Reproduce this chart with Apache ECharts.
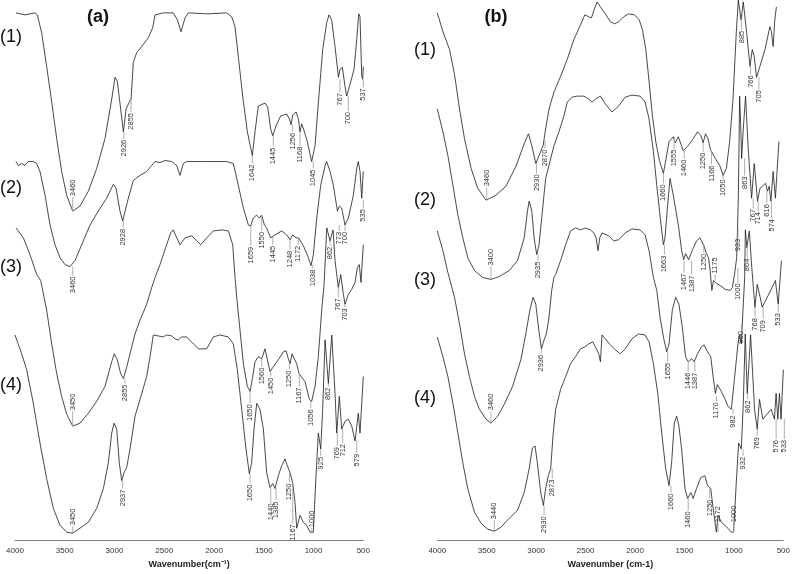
<!DOCTYPE html>
<html><head><meta charset="utf-8">
<script src="https://cdn.jsdelivr.net/npm/echarts@6/dist/echarts.min.js"></script>
<style>html,body{margin:0;padding:0;background:#fff}#c{width:793px;height:574px}</style>
</head><body><div id="c"></div>
<script>
// x ticks (wavenumber, cm-1)
const xMin = 500, xMax = 4000, xStep = 500;

// Panel (a) spectra: [wavenumber, relative transmittance (offset)]
const specA1 = [[3990,532],[3900,530],[3849,531],[3799,532],[3776,530],[3732,512],[3682,478],[3631,442],[3581,405],[3531,372],[3481,348],[3420,332],[3347,337],[3263,352],[3179,375],[3096,405],[3028,445],[2995,467],[2972,463],[2938,435],[2911,412],[2884,435],[2851,442],[2834,445],[2811,482],[2777,492],[2727,498],[2660,507],[2616,517],[2593,530],[2509,532],[2409,532],[2368,525],[2332,513],[2291,527],[2258,532],[2074,531],[1873,532],[1822,528],[1789,518],[1756,488],[1712,448],[1665,412],[1615,388],[1588,412],[1555,438],[1488,441],[1461,437],[1431,415],[1410,408],[1377,418],[1330,428],[1270,430],[1243,425],[1226,419],[1210,429],[1176,432],[1152,425],[1136,412],[1119,420],[1095,413],[1062,402],[1019,382],[985,398],[951,442],[908,495],[868,522],[844,530],[818,525],[784,498],[750,467],[734,475],[710,477],[684,458],[667,448],[633,460],[593,475],[566,505],[546,531],[533,528],[516,468],[506,465],[500,478]];
const specA2 = [[3990,382],[3966,378],[3933,380],[3900,378],[3866,382],[3816,382],[3782,380],[3749,372],[3698,348],[3648,318],[3598,298],[3548,285],[3497,278],[3447,276],[3397,282],[3330,298],[3246,318],[3163,332],[3079,345],[3012,359],[2985,355],[2945,332],[2918,322],[2894,332],[2861,345],[2811,363],[2744,368],[2677,372],[2626,378],[2593,382],[2543,381],[2492,383],[2425,382],[2375,378],[2342,368],[2308,380],[2275,382],[2074,382],[1873,382],[1806,380],[1756,358],[1705,335],[1655,318],[1632,317],[1605,325],[1572,328],[1545,325],[1521,328],[1494,318],[1471,315],[1431,305],[1387,308],[1320,312],[1270,308],[1236,303],[1210,308],[1176,305],[1152,305],[1102,297],[1052,285],[1025,277],[1002,288],[968,325],[928,358],[884,378],[868,382],[834,372],[801,358],[760,332],[740,337],[717,335],[684,318],[650,325],[600,348],[566,375],[550,382],[533,372],[516,345],[500,372]];
const specA3 = [[3990,315],[3916,305],[3849,288],[3782,268],[3742,262],[3682,232],[3631,198],[3581,168],[3531,145],[3481,127],[3420,115],[3347,118],[3263,128],[3179,140],[3096,155],[3028,180],[3002,188],[2972,182],[2938,168],[2911,163],[2884,172],[2844,188],[2794,208],[2744,222],[2677,238],[2626,255],[2593,265],[2543,278],[2476,298],[2436,310],[2409,313],[2375,305],[2342,298],[2291,305],[2224,307],[2174,302],[2134,298],[2074,305],[2007,312],[1923,313],[1856,312],[1812,298],[1789,265],[1772,245],[1745,218],[1705,178],[1665,155],[1638,150],[1611,165],[1588,180],[1555,185],[1521,183],[1488,193],[1464,182],[1437,170],[1404,175],[1354,182],[1303,190],[1276,191],[1253,183],[1236,178],[1216,188],[1196,189],[1169,178],[1146,168],[1126,167],[1086,160],[1042,142],[1019,140],[985,155],[952,185],[918,232],[894,258],[867,315],[834,302],[804,313],[784,282],[751,255],[727,268],[700,248],[684,238],[650,248],[616,253],[583,260],[560,275],[540,278],[523,260],[500,298]];
const specA4 = [[4000,207],[3933,188],[3883,172],[3816,138],[3749,98],[3682,62],[3615,32],[3548,15],[3481,8],[3420,7],[3347,12],[3263,18],[3179,32],[3112,52],[3062,78],[3028,108],[3005,118],[2978,112],[2952,78],[2928,60],[2905,68],[2878,73],[2844,92],[2794,125],[2744,142],[2677,165],[2643,185],[2610,207],[2559,206],[2509,205],[2476,207],[2425,206],[2392,203],[2358,202],[2325,205],[2275,205],[2207,198],[2157,193],[2074,193],[2007,205],[1940,207],[1856,205],[1806,198],[1766,172],[1722,132],[1679,92],[1645,67],[1622,78],[1598,112],[1571,138],[1538,132],[1504,112],[1471,68],[1437,53],[1410,57],[1387,52],[1354,65],[1320,75],[1287,82],[1263,75],[1236,68],[1210,58],[1186,38],[1169,12],[1136,25],[1102,18],[1069,15],[1035,8],[1002,8],[975,65],[952,108],[928,92],[908,132],[884,202],[851,158],[817,207],[784,148],[767,108],[741,145],[717,112],[683,120],[650,122],[616,115],[583,100],[550,128],[533,108],[500,165]];

// Panel (b) spectra
const specB1 = [[4000,532],[3943,513],[3876,495],[3826,470],[3775,435],[3725,405],[3658,375],[3591,355],[3507,343],[3407,348],[3306,357],[3205,377],[3121,400],[3078,410],[3044,398],[3004,380],[2971,388],[2930,398],[2904,415],[2870,435],[2820,452],[2753,468],[2686,485],[2619,505],[2551,520],[2508,530],[2468,528],[2441,527],[2407,537],[2384,543],[2350,538],[2300,531],[2250,523],[2206,521],[2166,523],[2116,528],[2065,531],[2005,530],[1958,525],[1925,515],[1891,495],[1857,462],[1824,428],[1790,402],[1753,383],[1713,370],[1686,385],[1656,402],[1613,407],[1593,401],[1562,407],[1512,393],[1462,398],[1411,405],[1368,412],[1334,408],[1311,401],[1287,410],[1261,405],[1237,394],[1217,393],[1187,385],[1143,378],[1110,368],[1076,375],[1043,402],[1009,445],[976,512],[955,545],[928,525],[905,543],[871,512],[837,478],[814,495],[794,488],[771,467],[737,478],[686,495],[636,518],[620,513],[603,498],[586,525],[570,538]];
const specB2 = [[4000,435],[3943,412],[3893,388],[3842,358],[3792,328],[3742,305],[3692,285],[3624,272],[3541,265],[3457,263],[3373,266],[3272,272],[3189,282],[3121,305],[3088,332],[3071,342],[3044,332],[3021,305],[2994,288],[2971,298],[2937,332],[2904,365],[2870,378],[2820,398],[2770,412],[2719,428],[2686,442],[2635,447],[2585,448],[2518,448],[2468,445],[2434,442],[2401,445],[2350,448],[2300,440],[2233,432],[2166,438],[2099,447],[2032,449],[1948,448],[1898,442],[1858,425],[1814,392],[1774,352],[1737,318],[1713,298],[1697,305],[1670,338],[1646,365],[1613,348],[1562,318],[1528,292],[1508,283],[1488,289],[1458,283],[1418,293],[1377,302],[1344,305],[1307,298],[1277,289],[1257,285],[1240,272],[1223,252],[1206,262],[1176,259],[1139,257],[1089,253],[1038,252],[1015,255],[988,272],[972,285],[955,345],[942,448],[930,415],[922,385],[905,415],[882,448],[855,395],[821,345],[794,380],[761,342],[736,355],[703,358],[680,360],[660,352],[643,357],[626,342],[603,372],[580,345],[545,402]];
const specB3 = [[4000,312],[3943,292],[3893,270],[3826,245],[3775,218],[3725,188],[3675,165],[3624,145],[3574,132],[3507,122],[3457,118],[3390,125],[3323,137],[3239,155],[3155,182],[3105,208],[3064,232],[3031,245],[3004,238],[2977,215],[2947,193],[2920,202],[2897,208],[2870,225],[2843,252],[2820,265],[2803,268],[2753,282],[2702,298],[2652,312],[2602,315],[2551,313],[2501,315],[2451,313],[2417,310],[2394,305],[2374,292],[2357,305],[2334,310],[2267,307],[2216,302],[2166,303],[2099,310],[2032,314],[1948,313],[1898,308],[1858,292],[1814,265],[1780,252],[1747,225],[1713,205],[1680,190],[1656,198],[1623,232],[1589,245],[1556,238],[1522,215],[1489,185],[1462,180],[1428,183],[1401,180],[1368,188],[1328,195],[1301,197],[1267,190],[1234,185],[1210,165],[1187,148],[1167,157],[1127,150],[1093,143],[1060,135],[1026,132],[992,165],[959,198],[942,207],[925,198],[908,232],[891,265],[884,313],[869,295],[844,312],[819,275],[787,235],[764,258],[734,245],[714,235],[653,247],[613,255],[580,262],[552,238],[519,282]];
const specB4 = [[4000,205],[3943,185],[3893,165],[3842,138],[3792,108],[3742,78],[3692,52],[3624,28],[3557,17],[3490,11],[3423,9],[3356,13],[3272,22],[3189,30],[3121,48],[3071,72],[3038,93],[3011,95],[2988,78],[2954,48],[2927,35],[2904,52],[2877,65],[2853,72],[2830,105],[2803,132],[2753,152],[2702,165],[2652,178],[2602,185],[2551,193],[2508,195],[2468,198],[2428,200],[2401,195],[2367,188],[2350,180],[2334,207],[2300,203],[2250,197],[2200,192],[2149,188],[2099,193],[2032,203],[1965,208],[1898,207],[1858,200],[1814,178],[1770,148],[1730,108],[1690,72],[1656,55],[1630,78],[1603,118],[1579,125],[1556,115],[1529,92],[1495,52],[1468,42],[1435,48],[1412,42],[1378,52],[1335,63],[1294,65],[1267,55],[1234,52],[1210,32],[1177,8],[1160,25],[1127,18],[1093,15],[1060,12],[1026,8],[1003,8],[976,58],[952,98],[925,92],[905,138],[885,208],[865,148],[831,207],[791,132],[764,112],[741,142],[707,122],[657,128],[623,132],[590,122],[573,148],[556,122],[539,148],[523,122],[500,172]];

// Peak annotations: [wavenumber, value at curve, value at label end, text]
const peaksA1 = [[3420,332,346,'3460'],[2905,412,405,'2926'],[2834,445,432,'2855'],[1615,388,380,'1642'],[1404,408,397,'1445'],[1209,419,412,'1256'],[1136,412,398,'1168'],[1002,382,375,'1045'],[734,465,452,'767'],[650,448,433,'700'],[500,465,457,'537']];
const peaksA2 = [[3420,276,267,'3460'],[2912,322,315,'2928'],[1631,317,297,'1659'],[1521,328,312,'1550'],[1410,306,298,'1445'],[1236,303,293,'1248'],[1153,305,298,'1172'],[1008,278,274,'1038'],[741,318,312,'773'],[684,318,312,'700'],[500,343,335,'535']];
const peaksA3 = [[3420,115,130,'3450'],[2895,163,158,'2855'],[1638,150,138,'1650'],[1521,183,175,'1560'],[1430,170,165,'1450'],[1243,178,172,'1250'],[1143,168,155,'1167'],[1028,140,133,'1056'],[834,302,297,'862'],[751,255,245,'767'],[684,238,235,'703']];
const peaksA4 = [[3420,7,14,'3450'],[2918,60,52,'2937'],[1638,67,57,'1650'],[1430,53,38,'1440'],[1377,52,40,'1385'],[1243,68,58,'1250'],[1209,58,17,'1167'],[1018,8,12,'1000'],[928,92,85,'925'],[851,158,155,'862'],[761,108,95,'769'],[707,112,98,'712'],[566,100,88,'579']];
const peaksB1 = [[3500,343,356,'3460'],[2997,380,370,'2930'],[2910,403,395,'2870'],[1713,370,360,'1660'],[1603,407,395,'1555'],[1502,393,385,'1460'],[1311,401,392,'1250'],[1227,393,379,'1166'],[1110,368,365,'1050'],[922,525,515,'885'],[831,478,470,'766'],[747,467,455,'705']];
const peaksB2 = [[3457,263,276,'3400'],[2980,288,282,'2935'],[1703,298,288,'1663'],[1505,282,270,'1467'],[1428,282,268,'1387'],[1304,298,290,'1250'],[1190,262,268,'1175'],[960,275,260,'1000'],[891,385,368,'863'],[804,345,335,'767'],[754,342,332,'714'],[667,352,340,'616'],[620,342,325,'574']];
const peaksB3 = [[3457,118,130,'3460'],[2947,193,188,'2936'],[1670,190,180,'1655'],[1462,180,170,'1446'],[1395,180,170,'1387'],[1177,145,140,'1170'],[1009,132,127,'982'],[925,218,212,'950'],[958,315,305,'933'],[865,298,285,'864'],[787,235,225,'768'],[704,235,223,'709'],[552,238,230,'533']];
const peaksB4 = [[3423,9,20,'3440'],[2920,35,25,'2930'],[2837,72,62,'2873'],[1636,55,48,'1660'],[1462,42,30,'1460'],[1244,52,42,'1250'],[1160,8,17,'1172'],[1003,8,17,'1000'],[908,92,85,'932'],[861,148,142,'862'],[764,112,105,'769'],[573,122,102,'576'],[490,122,102,'533']];

const curveNames = ['(1)','(2)','(3)','(4)'];

const FONT = '"Liberation Sans", Arial, sans-serif';
const chart = echarts.init(document.getElementById('c'), null, {renderer: 'canvas'});

function lineSeries(data, idx) {
  return {type: 'line', xAxisIndex: idx, yAxisIndex: idx, data: data, showSymbol: false, symbol: 'none',
    lineStyle: {color: '#1a1a1a', width: 0.8}, silent: true, animation: false, z: 2};
}
function peakSeries(list, idx) {
  return {type: 'custom', xAxisIndex: idx, yAxisIndex: idx, clip: false, silent: true, animation: false, z: 3,
    data: list.map(p => [p[0], p[1], p[2]]),
    renderItem: function (params, api) {
      const it = list[params.dataIndex];
      const p0 = api.coord([it[0], it[1]]);
      const p1 = api.coord([it[0], it[2]]);
      const down = it[2] < it[1];
      return {type: 'group', children: [
        {type: 'line', shape: {x1: p0[0], y1: p0[1], x2: p1[0], y2: p1[1]}, style: {stroke: '#9a9a9a', lineWidth: 0.8}},
        {type: 'text', x: p1[0], y: p1[1] + (down ? 1 : -1), rotation: Math.PI / 2,
          style: {text: it[3], align: down ? 'right' : 'left', verticalAlign: 'middle', fontSize: 7.5, fontFamily: FONT, fill: '#333'}}
      ]};
    }};
}
function xAxisDef(idx, name) {
  return {gridIndex: idx, type: 'value', inverse: true, min: xMin, max: xMax, interval: xStep,
    axisLine: {lineStyle: {color: '#808080', width: 1}}, axisTick: {show: false}, splitLine: {show: false},
    axisLabel: {fontSize: 8, color: '#333', margin: 7, fontFamily: FONT, formatter: v => String(v)},
    name: name, nameLocation: 'middle', nameGap: 19,
    nameTextStyle: {fontWeight: 'bold', fontSize: 9, color: '#222', fontFamily: FONT}};
}
function yAxisDef(idx) { return {gridIndex: idx, type: 'value', min: 0, max: 545, show: false}; }

const labelPosA = [37, 188, 267, 385];
const labelPosB = [50, 200, 280, 398];
const graphics = [
  {type: 'text', x: 98, y: 17, style: {text: '(a)', font: 'bold 18px ' + FONT, fill: '#111', align: 'center', verticalAlign: 'middle'}},
  {type: 'text', x: 496, y: 17, style: {text: '(b)', font: 'bold 18px ' + FONT, fill: '#111', align: 'center', verticalAlign: 'middle'}}
];
curveNames.forEach((n, i) => {
  graphics.push({type: 'text', x: 0, y: labelPosA[i], style: {text: n, font: '18px ' + FONT, fill: '#111', align: 'left', verticalAlign: 'middle'}});
  graphics.push({type: 'text', x: 414, y: labelPosB[i], style: {text: n, font: '18px ' + FONT, fill: '#111', align: 'left', verticalAlign: 'middle'}});
});

chart.setOption({
  animation: false,
  backgroundColor: '#fff',
  grid: [{left: 15, right: 429.7, top: 0, bottom: 29}, {left: 437.3, right: 7.7, top: 0, bottom: 29}],
  xAxis: [xAxisDef(0, 'Wavenumber(cm\u207B\u00B9)'), xAxisDef(1, 'Wavenumber (cm-1)')],
  yAxis: [yAxisDef(0), yAxisDef(1)],
  graphic: graphics,
  series: [
    lineSeries(specA1, 0), lineSeries(specA2, 0), lineSeries(specA3, 0), lineSeries(specA4, 0),
    lineSeries(specB1, 1), lineSeries(specB2, 1), lineSeries(specB3, 1), lineSeries(specB4, 1),
    peakSeries(peaksA1, 0), peakSeries(peaksA2, 0), peakSeries(peaksA3, 0), peakSeries(peaksA4, 0),
    peakSeries(peaksB1, 1), peakSeries(peaksB2, 1), peakSeries(peaksB3, 1), peakSeries(peaksB4, 1)
  ]
});
</script></body></html>
